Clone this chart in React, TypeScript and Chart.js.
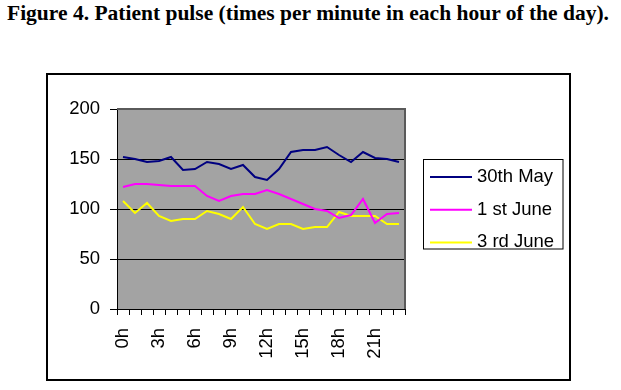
import React, { useEffect, useRef } from "react";
import { Chart, registerables } from "chart.js";

Chart.register(...registerables);

const hours = ["0h","1h","2h","3h","4h","5h","6h","7h","8h","9h","10h","11h","12h","13h","14h","15h","16h","17h","18h","19h","20h","21h","22h","23h"];
const may30 = [152,150,147,148,152,139,140,147,145,140,144,132,129,140,157,159,159,162,154,147,157,151,150,147];
const june1 = [122,125,125,124,123,123,123,113,108,113,115,115,119,115,110,105,100,98,91,94,110,86,95,96];
const june3 = [108,96,106,93,88,90,90,98,95,90,102,85,80,85,85,80,82,82,97,93,93,93,85,85];
const seriesNames = ["30th May", "1 st June", "3 rd June"];
const seriesColors = ["#000080", "#FF00FF", "#FFFF00"];
const yTicks = [0, 50, 100, 150, 200];

const FONT = '"Liberation Sans", Arial, sans-serif';

const plotBgPlugin = {
  id: "plotBg",
  beforeDraw(chart: any) {
    const { ctx, chartArea: a } = chart;
    ctx.save();
    ctx.fillStyle = "#A3A3A3";
    ctx.fillRect(a.left, a.top, a.right - a.left, a.bottom - a.top);
    ctx.restore();
  },
  afterDraw(chart: any) {
    const { ctx, chartArea: a } = chart;
    ctx.save();
    ctx.strokeStyle = "#5A5A5A";
    ctx.lineWidth = 2;
    ctx.beginPath();
    ctx.moveTo(a.left, a.top);
    ctx.lineTo(a.right, a.top);
    ctx.lineTo(a.right, a.bottom);
    ctx.stroke();
    ctx.restore();
  },
};

const boxLegendPlugin = {
  id: "boxLegend",
  afterDraw(chart: any) {
    const ctx = chart.ctx;
    ctx.save();
    ctx.fillStyle = "#ffffff";
    ctx.strokeStyle = "#000000";
    ctx.lineWidth = 1;
    ctx.fillRect(423.5, 159.5, 139.5, 89.5);
    ctx.strokeRect(423.5, 159.5, 139.5, 89.5);
    chart.data.datasets.forEach((ds: any, i: number) => {
      const y = 177 + i * 32.7;
      ctx.strokeStyle = ds.borderColor;
      ctx.lineWidth = 2;
      ctx.beginPath();
      ctx.moveTo(430, y);
      ctx.lineTo(472, y);
      ctx.stroke();
      ctx.fillStyle = "#000000";
      ctx.font = `18.5px ${FONT}`;
      ctx.textBaseline = "middle";
      ctx.textAlign = "left";
      ctx.fillText(ds.label, 477, y);
    });
    ctx.restore();
  },
};

function PulseChart() {
  const ref = useRef<HTMLCanvasElement | null>(null);
  useEffect(() => {
    if (!ref.current) return;
    const chart = new Chart(ref.current, {
      type: "line",
      data: {
        labels: hours,
        datasets: [may30, june1, june3].map((d, i) => ({
          label: seriesNames[i],
          data: d,
          borderColor: seriesColors[i],
          backgroundColor: seriesColors[i],
          borderWidth: 2,
          pointRadius: 0,
          tension: 0,
          fill: false,
        })),
      },
      options: {
        responsive: false,
        animation: false,
        events: [],
        layout: { padding: { left: 57, right: 216, top: 109, bottom: 0 } },
        plugins: { legend: { display: false }, title: { display: false }, tooltip: { enabled: false } },
        scales: {
          x: {
            type: "category",
            offset: true,
            afterFit: (s: any) => { s.height = 52; },
            grid: { display: true, drawOnChartArea: false, offset: true, color: "#000", tickLength: 6, lineWidth: 1 },
            border: { display: true, color: "#000", width: 1 },
            ticks: {
              autoSkip: false,
              maxRotation: 90,
              minRotation: 90,
              padding: 13,
              color: "#000",
              font: { family: FONT, size: 18.5 },
              callback: (_v: any, i: number) => (i % 3 === 0 ? hours[i] : ""),
            },
          },
          y: {
            min: yTicks[0],
            max: yTicks[yTicks.length - 1],
            afterFit: (s: any) => { s.width = 60; },
            afterBuildTicks: (s: any) => { s.ticks = yTicks.map((v) => ({ value: v })); },
            grid: { color: "#000", lineWidth: 1, tickLength: 7 },
            border: { display: true, color: "#000", width: 1 },
            ticks: { padding: 10, color: "#000", font: { family: FONT, size: 18.5 } },
          },
        },
      },
      plugins: [plotBgPlugin, boxLegendPlugin],
    } as any);
    return () => chart.destroy();
  }, []);
  return (
    <canvas
      ref={ref}
      width={621}
      height={361}
      style={{ position: "absolute", left: 0, top: 0, width: 621, height: 361, display: "block" }}
    />
  );
}

export default function App() {
  return (
    <div style={{ position: "fixed", left: 0, top: 0, width: 621, height: 390, background: "#fff", overflow: "hidden" }}>
      <div
        style={{
          position: "absolute",
          left: 7,
          top: 1,
          fontFamily: '"Liberation Serif", "Times New Roman", serif',
          fontWeight: "bold",
          fontSize: 21.5,
          lineHeight: "24px",
          whiteSpace: "nowrap",
          color: "#000",
        }}
      >
        Figure 4. Patient pulse (times per minute in each hour of the day).
      </div>
      <div
        style={{
          position: "absolute",
          left: 46,
          top: 73,
          width: 525,
          height: 308,
          boxSizing: "border-box",
          border: "2px solid #000",
        }}
      />
      <PulseChart />
    </div>
  );
}
